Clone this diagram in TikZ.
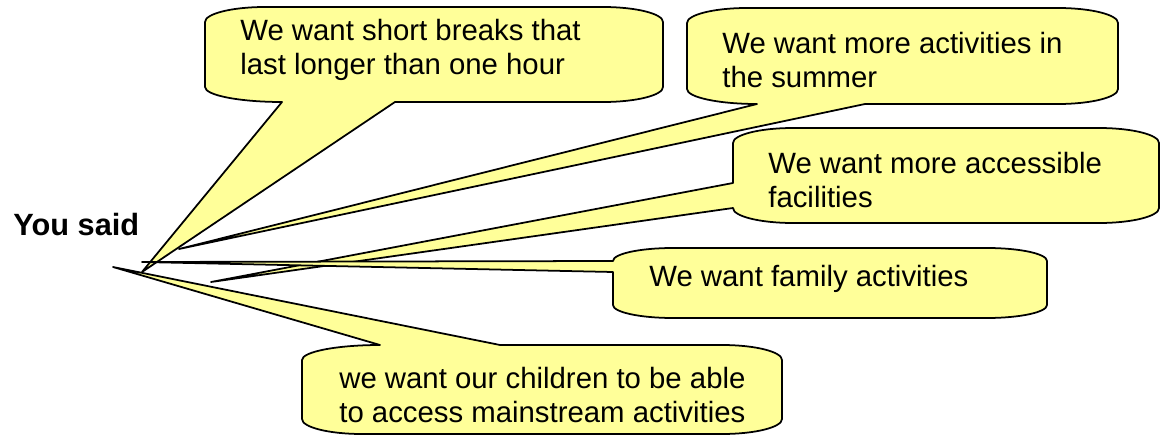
\documentclass[tikz,border=0pt]{standalone}
\usepackage{fontspec}
\setmainfont{Liberation Sans}
\usetikzlibrary{positioning}
\definecolor{bubblefill}{HTML}{FFFF99}

\begin{document}
\begin{tikzpicture}[x=0.02cm, y=-0.02cm, font=\fontsize{16.7}{19.5}\selectfont,
   bubble/.style={draw=black, line width=1pt, fill=bubblefill, line join=round},
   txt/.style={anchor=west, align=left, inner sep=0pt},
   rc/.style={x radius=60, y radius=15}]
  \useasboundingbox (0,0) rectangle (1161,436);
  % pointer tips
  \coordinate (tipbreaks) at (142,272);
  \coordinate (tipsummer) at (179,249);
  \coordinate (tipaccess) at (211,282);
  \coordinate (tipfamily) at (142,262);
  \coordinate (tipmain) at (113,267);
  % callouts, drawn clockwise from the upper left corner
  \draw[bubble] (205,22) arc[rc, start angle=180, end angle=270] -- (603,7)
    arc[rc, start angle=270, end angle=360] -- (663,87) arc[rc, start angle=0, end angle=90]
    -- (395,102) -- (tipbreaks) -- (282,102) arc[rc, x radius=77, start angle=90, end angle=180] -- cycle;
  \draw[bubble] (687,23) arc[rc, start angle=180, end angle=270] -- (1058,8)
    arc[rc, start angle=270, end angle=360] -- (1118,89) arc[rc, start angle=0, end angle=90]
    -- (865,104) -- (tipsummer) -- (757,104) arc[rc, x radius=70, start angle=90, end angle=180] -- cycle;
  \draw[bubble] (733,143) arc[rc, start angle=180, end angle=270] -- (1099,128)
    arc[rc, start angle=270, end angle=360] -- (1159,208) arc[rc, start angle=0, end angle=90]
    -- (793,223) arc[rc, start angle=90, end angle=180] -- (tipaccess) -- (733,183) -- cycle;
  \draw[bubble] (613,261) arc[rc, y radius=13, start angle=180, end angle=270] -- (987,248)
    arc[rc, y radius=13, start angle=270, end angle=360] -- (1047,305) arc[rc, y radius=13, start angle=0, end angle=90]
    -- (673,318) arc[rc, y radius=13, start angle=90, end angle=180] -- (613,272) -- (tipfamily) -- cycle;
  \draw[bubble] (302,360) arc[rc, x radius=78, start angle=180, end angle=270] -- (tipmain) -- (500,345)
    -- (722,345) arc[rc, start angle=270, end angle=360] -- (782,419)
    arc[rc, start angle=0, end angle=90] -- (362,434) arc[rc, start angle=90, end angle=180] -- cycle;
  % texts
  \node[txt] (breaks) at (240,50) {We want short breaks that\\last longer than one hour};
  \node[txt] (summer) at (722,60) {We want more activities in\\the summer};
  \node[txt] (access) at (768,180) {We want more accessible\\facilities};
  \node[txt] (family) at (649,279) {We want family activities};
  \node[txt] (mainstream) at (339,395) {we want our children to be able\\to access mainstream activities};
  \node[anchor=base west, inner sep=0pt, font=\fontsize{17.5}{19.5}\selectfont\bfseries] (said) at (13,235) {You said};
\end{tikzpicture}
\end{document}
